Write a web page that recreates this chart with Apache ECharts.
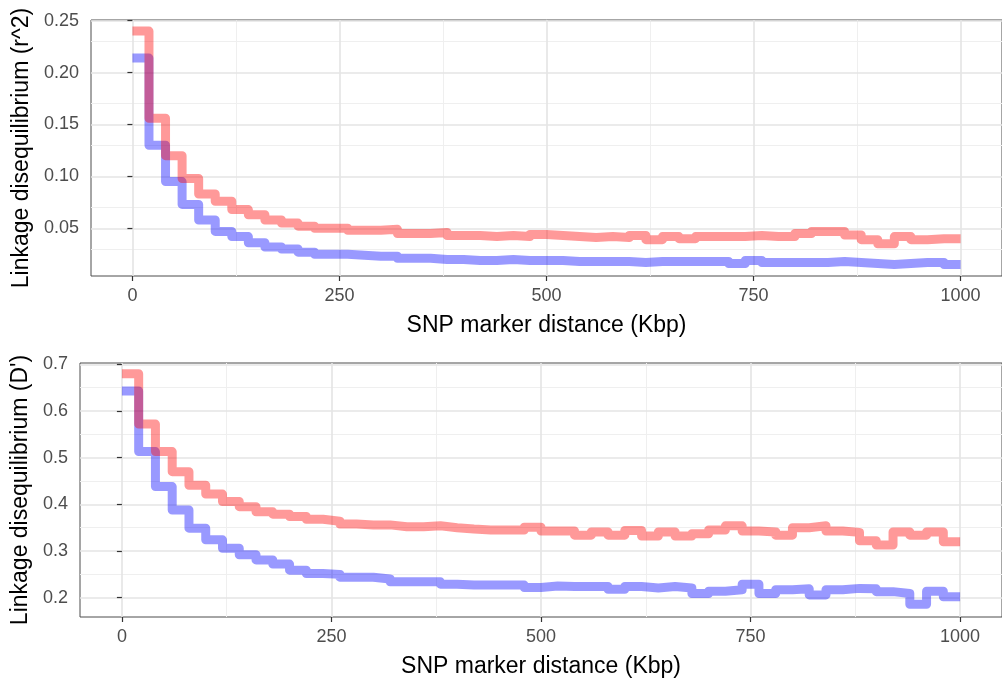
<!DOCTYPE html>
<html>
<head>
<meta charset="utf-8">
<script src="https://cdn.jsdelivr.net/npm/echarts@6/dist/echarts.min.js"></script>
<style>
  html, body { margin: 0; padding: 0; background: #fff; }
  #main { width: 1002px; height: 679px; }
</style>
</head>
<body>
<div id="main"></div>
<script>
// 距离 (Kbp)
var distance = [0, 20, 40, 60, 80, 100, 120, 140, 160, 180, 200, 220, 240, 260, 280, 300, 320, 340, 360, 380,
    400, 420, 440, 460, 480, 500, 520, 540, 560, 580, 600, 620, 640, 660, 680, 700, 720, 740, 760, 780,
    800, 820, 840, 860, 880, 900, 920, 940, 960, 980, 1000];

// r^2 上图
var r2Red = [0.240, 0.156, 0.120, 0.098, 0.083, 0.076, 0.068, 0.063, 0.058, 0.055, 0.052, 0.050, 0.050, 0.048, 0.048, 0.049, 0.045, 0.045, 0.046, 0.043,
    0.043, 0.042, 0.043, 0.042, 0.044, 0.043, 0.042, 0.041, 0.042, 0.041, 0.043, 0.039, 0.042, 0.040, 0.042, 0.042, 0.042, 0.043, 0.042, 0.042,
    0.045, 0.047, 0.047, 0.0435, 0.039, 0.035, 0.042, 0.039, 0.040, 0.040, 0.040];
var r2Blue = [0.214, 0.130, 0.095, 0.073, 0.058, 0.047, 0.042, 0.036, 0.032, 0.030, 0.027, 0.025, 0.025, 0.024, 0.023, 0.023, 0.021, 0.021, 0.020, 0.020,
    0.019, 0.019, 0.020, 0.019, 0.019, 0.019, 0.018, 0.018, 0.018, 0.018, 0.017, 0.018, 0.018, 0.018, 0.018, 0.018, 0.016, 0.019, 0.017, 0.017,
    0.017, 0.017, 0.018, 0.017, 0.016, 0.015, 0.016, 0.017, 0.017, 0.015, 0.015];

// D' 下图
var dRed = [0.680, 0.572, 0.513, 0.470, 0.441, 0.422, 0.406, 0.395, 0.384, 0.379, 0.374, 0.368, 0.364, 0.358, 0.356, 0.356, 0.352, 0.352, 0.354, 0.350,
    0.347, 0.345, 0.345, 0.345, 0.351, 0.343, 0.343, 0.334, 0.341, 0.334, 0.344, 0.332, 0.341, 0.332, 0.337, 0.345, 0.354, 0.343, 0.341, 0.334,
    0.350, 0.354, 0.343, 0.340, 0.322, 0.313, 0.341, 0.334, 0.341, 0.320, 0.320];
var dBlue = [0.643, 0.513, 0.438, 0.388, 0.349, 0.324, 0.306, 0.292, 0.281, 0.272, 0.259, 0.252, 0.250, 0.244, 0.244, 0.240, 0.234, 0.234, 0.234, 0.229,
    0.227, 0.227, 0.227, 0.227, 0.222, 0.225, 0.224, 0.224, 0.224, 0.218, 0.224, 0.221, 0.224, 0.221, 0.209, 0.214, 0.217, 0.229, 0.209, 0.217,
    0.219, 0.206, 0.217, 0.220, 0.219, 0.213, 0.209, 0.186, 0.214, 0.202, 0.202];

// 刻度
var xTicks = [0, 250, 500, 750, 1000];
var xMinor = [125, 375, 625, 875];
var r2Ticks = [0.05, 0.10, 0.15, 0.20, 0.25];
var r2Minor = [0.025, 0.075, 0.125, 0.175, 0.225];
var dTicks = [0.2, 0.3, 0.4, 0.5, 0.6, 0.7];
var dMinor = [0.25, 0.35, 0.45, 0.55, 0.65];

var FONT = 'Liberation Sans, Arial, sans-serif';

function pairs(xs, ys) {
    var out = [];
    for (var i = 0; i < xs.length; i++) out.push([xs[i], ys[i]]);
    return out;
}

// 网格线 (ggplot theme_bw 风格)
function gridLines(xMaj, xMin, yMaj, yMin) {
    var d = [];
    xMin.forEach(function (v) { d.push({ xAxis: v, lineStyle: { color: '#efefef', width: 1, type: 'solid' } }); });
    yMin.forEach(function (v) { d.push({ yAxis: v, lineStyle: { color: '#efefef', width: 1, type: 'solid' } }); });
    xMaj.forEach(function (v) { d.push({ xAxis: v, lineStyle: { color: '#e4e4e4', width: 1.6, type: 'solid' } }); });
    yMaj.forEach(function (v) { d.push({ yAxis: v, lineStyle: { color: '#e4e4e4', width: 1.6, type: 'solid' } }); });
    return d;
}

function xAxisCfg(idx) {
    return {
        type: 'value',
        gridIndex: idx,
        min: -50,
        max: 1050,
        name: 'SNP marker distance (Kbp)',
        nameLocation: 'middle',
        nameGap: 38,
        nameTextStyle: { fontFamily: FONT, fontSize: 23, color: '#000' },
        axisLine: { show: false },
        splitLine: { show: false },
        axisTick: { show: true, length: 5, lineStyle: { color: '#333', width: 1.2 }, customValues: xTicks },
        axisLabel: {
            fontFamily: FONT, fontSize: 18, color: '#4d4d4d', margin: 11, customValues: xTicks,
            formatter: function (v) { return String(v); }
        }
    };
}

function stepSeries(name, xi, yi, data, color) {
    return {
        name: name,
        type: 'line',
        xAxisIndex: xi,
        yAxisIndex: yi,
        step: 'end',
        showSymbol: false,
        symbol: 'none',
        z: 3,
        data: data,
        lineStyle: { color: color, width: 9, opacity: 0.4, cap: 'butt', join: 'round' }
    };
}

function gridSeries(idx, yMaj, yMin) {
    return {
        type: 'line', xAxisIndex: idx, yAxisIndex: idx, data: [], z: 0, silent: true,
        markLine: {
            z: 0, silent: true, symbol: 'none', label: { show: false }, animation: false,
            emphasis: { disabled: true },
            data: gridLines(xTicks, xMinor, yMaj, yMin)
        }
    };
}

var myChart = echarts.init(document.getElementById('main'), null, { renderer: 'canvas' });
var option = {
    animation: false,
    backgroundColor: '#fff',
    grid: [
        { left: 91, top: 20, right: -8, height: 256, show: true, borderColor: '#4d4d4d', borderWidth: 1, backgroundColor: 'transparent' },
        { left: 80, top: 363, right: -8, height: 254, show: true, borderColor: '#4d4d4d', borderWidth: 1, backgroundColor: 'transparent' }
    ],
    xAxis: [xAxisCfg(0), xAxisCfg(1)],
    yAxis: [{
        type: 'value',
        gridIndex: 0,
        min: 0.004,
        max: 0.2507,
        name: 'Linkage disequilibrium (r^2)',
        nameLocation: 'middle',
        nameGap: 58,
        nameTextStyle: { fontFamily: FONT, fontSize: 23, color: '#000' },
        axisLine: { show: false },
        splitLine: { show: false },
        axisTick: { show: true, length: 5, lineStyle: { color: '#333', width: 1.2 }, customValues: r2Ticks },
        axisLabel: {
            fontFamily: FONT, fontSize: 18, color: '#4d4d4d', margin: 12, customValues: r2Ticks,
            formatter: function (v) { return v.toFixed(2); }
        }
    }, {
        type: 'value',
        gridIndex: 1,
        min: 0.1587,
        max: 0.7028,
        name: "Linkage disequilibrium (D')",
        nameLocation: 'middle',
        nameGap: 46,
        nameTextStyle: { fontFamily: FONT, fontSize: 23, color: '#000' },
        axisLine: { show: false },
        splitLine: { show: false },
        axisTick: { show: true, length: 5, lineStyle: { color: '#333', width: 1.2 }, customValues: dTicks },
        axisLabel: {
            fontFamily: FONT, fontSize: 18, color: '#4d4d4d', margin: 12, customValues: dTicks,
            formatter: function (v) { return v.toFixed(1); }
        }
    }],
    series: [
        gridSeries(0, r2Ticks, r2Minor),
        gridSeries(1, dTicks, dMinor),
        stepSeries('r2 blue', 0, 0, pairs(distance, r2Blue), '#0000ff'),
        stepSeries('r2 red', 0, 0, pairs(distance, r2Red), '#ff0000'),
        stepSeries('D blue', 1, 1, pairs(distance, dBlue), '#0000ff'),
        stepSeries('D red', 1, 1, pairs(distance, dRed), '#ff0000')
    ]
};
myChart.setOption(option);
</script>
</body>
</html>
